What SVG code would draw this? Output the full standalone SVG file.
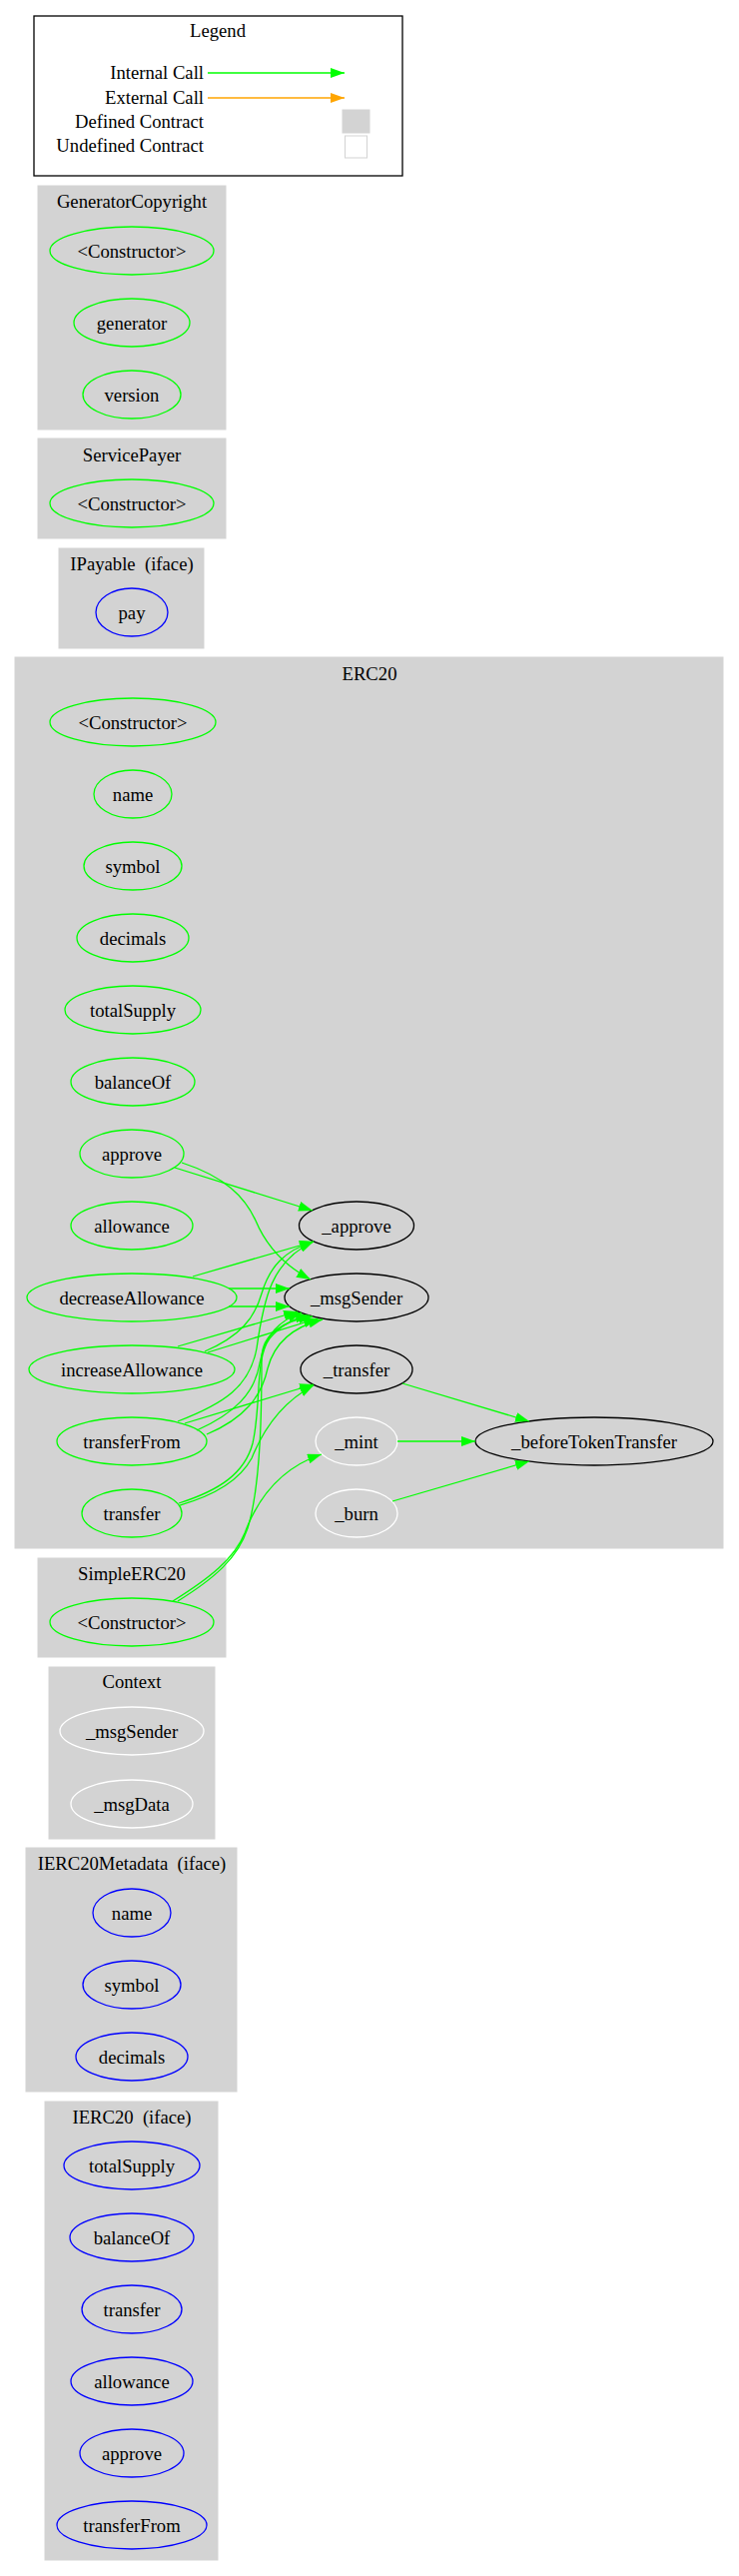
<svg xmlns="http://www.w3.org/2000/svg" width="740" height="2579" viewBox="0 0 740 2579">
<style>
text{font-family:"Liberation Serif","Times New Roman",serif;font-size:18.67px;fill:#000;white-space:pre}
.c{text-anchor:middle}
.r{text-anchor:end}
.cl{fill:#d3d3d3;stroke:#d3d3d3}
ellipse{fill:none;stroke-width:1.3}
.g{stroke:#00ff00}
.b{stroke:#0000ff}
.k{stroke:#000}
.w{stroke:#fff}
.e path{fill:none;stroke:#00ff00;stroke-width:1.3;marker-end:url(#ag)}
</style>
<defs>
<marker id="ag" markerWidth="14" markerHeight="10" refX="14" refY="5" orient="auto" markerUnits="userSpaceOnUse"><polygon points="0,0 14,5 0,10" fill="#00ff00"/></marker>
<marker id="ao" markerWidth="14" markerHeight="10" refX="14" refY="5" orient="auto" markerUnits="userSpaceOnUse"><polygon points="0,0 14,5 0,10" fill="#ffa500"/></marker>
</defs>
<rect width="740" height="2579" fill="#fff"/>

<g id="legend">
<rect x="34" y="16" width="369" height="160" fill="#fff" stroke="#000" stroke-width="1.3"/>
<text class="c" x="218" y="37">Legend</text>
<text class="r" x="204" y="79">Internal Call</text>
<text class="r" x="204" y="104">External Call</text>
<text class="r" x="204" y="128">Defined Contract</text>
<text class="r" x="204" y="152">Undefined Contract</text>
<line x1="208" y1="73" x2="345" y2="73" stroke="#00ff00" stroke-width="1.3" marker-end="url(#ag)"/>
<line x1="208" y1="98" x2="345" y2="98" stroke="#ffa500" stroke-width="1.3" marker-end="url(#ao)"/>
<rect x="343" y="110" width="27" height="23" fill="#d3d3d3" stroke="#d3d3d3"/>
<rect x="345.5" y="136" width="22" height="22" fill="#fff" stroke="#d3d3d3"/>
</g>

<g id="cluster_GeneratorCopyright">
<rect class="cl" x="38" y="186" width="188" height="244"/>
<text class="c" x="132" y="208">GeneratorCopyright</text>
</g>
<g id="GeneratorCopyright.Constructor"><ellipse class="g" cx="132" cy="251" rx="82" ry="24"/><text class="c" x="132" y="257.5">&lt;Constructor&gt;</text></g>
<g id="GeneratorCopyright.generator"><ellipse class="g" cx="132" cy="323" rx="58" ry="24"/><text class="c" x="132" y="329.5">generator</text></g>
<g id="GeneratorCopyright.version"><ellipse class="g" cx="132" cy="395" rx="49" ry="24"/><text class="c" x="132" y="401.5">version</text></g>

<g id="cluster_ServicePayer">
<rect class="cl" x="38" y="439" width="188" height="100"/>
<text class="c" x="132" y="462">ServicePayer</text>
</g>
<g id="ServicePayer.Constructor"><ellipse class="g" cx="132" cy="504" rx="82" ry="24"/><text class="c" x="132" y="510.5">&lt;Constructor&gt;</text></g>

<g id="cluster_IPayable">
<rect class="cl" x="59" y="549" width="145" height="100"/>
<text class="c" x="132" y="571" xml:space="preserve">IPayable  (iface)</text>
</g>
<g id="IPayable.pay"><ellipse class="b" cx="132" cy="613" rx="36" ry="24"/><text class="c" x="132" y="619.5">pay</text></g>

<g id="cluster_ERC20">
<rect class="cl" x="15" y="658" width="709" height="892"/>
<text class="c" x="370" y="681">ERC20</text>
</g>
<g id="ERC20.Constructor"><ellipse class="g" cx="133" cy="723" rx="83" ry="24"/><text class="c" x="133" y="729.5">&lt;Constructor&gt;</text></g>
<g id="ERC20.name"><ellipse class="g" cx="133" cy="795" rx="39" ry="24"/><text class="c" x="133" y="801.5">name</text></g>
<g id="ERC20.symbol"><ellipse class="g" cx="133" cy="867" rx="49" ry="24"/><text class="c" x="133" y="873.5">symbol</text></g>
<g id="ERC20.decimals"><ellipse class="g" cx="133" cy="939" rx="56" ry="24"/><text class="c" x="133" y="945.5">decimals</text></g>
<g id="ERC20.totalSupply"><ellipse class="g" cx="133" cy="1011" rx="68" ry="24"/><text class="c" x="133" y="1017.5">totalSupply</text></g>
<g id="ERC20.balanceOf"><ellipse class="g" cx="133" cy="1083" rx="62" ry="24"/><text class="c" x="133" y="1089.5">balanceOf</text></g>
<g id="ERC20.approve"><ellipse class="g" cx="132" cy="1155" rx="52" ry="24"/><text class="c" x="132" y="1161.5">approve</text></g>
<g id="ERC20.allowance"><ellipse class="g" cx="132" cy="1227" rx="61" ry="24"/><text class="c" x="132" y="1233.5">allowance</text></g>
<g id="ERC20.decreaseAllowance"><ellipse class="g" cx="132" cy="1299" rx="105" ry="24"/><text class="c" x="132" y="1305.5">decreaseAllowance</text></g>
<g id="ERC20.increaseAllowance"><ellipse class="g" cx="132" cy="1371" rx="103" ry="24"/><text class="c" x="132" y="1377.5">increaseAllowance</text></g>
<g id="ERC20.transferFrom"><ellipse class="g" cx="132" cy="1443" rx="75" ry="24"/><text class="c" x="132" y="1449.5">transferFrom</text></g>
<g id="ERC20.transfer"><ellipse class="g" cx="132" cy="1515" rx="50" ry="24"/><text class="c" x="132" y="1521.5">transfer</text></g>
<g id="ERC20._approve"><ellipse class="k" cx="357" cy="1227" rx="57.5" ry="24"/><text class="c" x="357" y="1233.5">_approve</text></g>
<g id="ERC20._msgSender"><ellipse class="k" cx="357" cy="1299" rx="72" ry="24"/><text class="c" x="357" y="1305.5">_msgSender</text></g>
<g id="ERC20._transfer"><ellipse class="k" cx="357" cy="1371" rx="56" ry="24"/><text class="c" x="357" y="1377.5">_transfer</text></g>
<g id="ERC20._mint"><ellipse class="w" cx="357" cy="1443" rx="41" ry="24"/><text class="c" x="357" y="1449.5">_mint</text></g>
<g id="ERC20._burn"><ellipse class="w" cx="357" cy="1515" rx="41" ry="24"/><text class="c" x="357" y="1521.5">_burn</text></g>
<g id="ERC20._beforeTokenTransfer"><ellipse class="k" cx="595" cy="1443" rx="119" ry="24"/><text class="c" x="595" y="1449.5">_beforeTokenTransfer</text></g>

<g id="cluster_SimpleERC20">
<rect class="cl" x="38" y="1560" width="188" height="99"/>
<text class="c" x="132" y="1582">SimpleERC20</text>
</g>
<g id="SimpleERC20.Constructor"><ellipse class="g" cx="132" cy="1624" rx="82" ry="24"/><text class="c" x="132" y="1630.5">&lt;Constructor&gt;</text></g>

<g id="cluster_Context">
<rect class="cl" x="49" y="1669" width="166" height="172"/>
<text class="c" x="132" y="1690">Context</text>
</g>
<g id="Context._msgSender"><ellipse class="w" cx="132" cy="1733" rx="72" ry="24"/><text class="c" x="132" y="1739.5">_msgSender</text></g>
<g id="Context._msgData"><ellipse class="w" cx="132" cy="1806" rx="61" ry="24"/><text class="c" x="132" y="1812.5">_msgData</text></g>

<g id="cluster_IERC20Metadata">
<rect class="cl" x="26" y="1850" width="211" height="244"/>
<text class="c" x="132" y="1872" xml:space="preserve">IERC20Metadata  (iface)</text>
</g>
<g id="IERC20Metadata.name"><ellipse class="b" cx="132" cy="1915" rx="39" ry="24"/><text class="c" x="132" y="1921.5">name</text></g>
<g id="IERC20Metadata.symbol"><ellipse class="b" cx="132" cy="1987" rx="49" ry="24"/><text class="c" x="132" y="1993.5">symbol</text></g>
<g id="IERC20Metadata.decimals"><ellipse class="b" cx="132" cy="2059" rx="56" ry="24"/><text class="c" x="132" y="2065.5">decimals</text></g>

<g id="cluster_IERC20">
<rect class="cl" x="45" y="2104" width="173" height="459"/>
<text class="c" x="132" y="2126" xml:space="preserve">IERC20  (iface)</text>
</g>
<g id="IERC20.totalSupply"><ellipse class="b" cx="132" cy="2168" rx="68" ry="24"/><text class="c" x="132" y="2174.5">totalSupply</text></g>
<g id="IERC20.balanceOf"><ellipse class="b" cx="132" cy="2240" rx="62" ry="24"/><text class="c" x="132" y="2246.5">balanceOf</text></g>
<g id="IERC20.transfer"><ellipse class="b" cx="132" cy="2312" rx="50" ry="24"/><text class="c" x="132" y="2318.5">transfer</text></g>
<g id="IERC20.allowance"><ellipse class="b" cx="132" cy="2384" rx="61" ry="24"/><text class="c" x="132" y="2390.5">allowance</text></g>
<g id="IERC20.approve"><ellipse class="b" cx="132" cy="2456" rx="52" ry="24"/><text class="c" x="132" y="2462.5">approve</text></g>
<g id="IERC20.transferFrom"><ellipse class="b" cx="132" cy="2528" rx="75" ry="24"/><text class="c" x="132" y="2534.5">transferFrom</text></g>

<g id="connectors" class="e">
<path d="M175,1169 L313,1212"/>
<path d="M182,1164 C225,1178 245,1198 256,1222 C266,1246 283,1266 311,1281"/>
<path d="M193,1278 L314,1243"/>
<path d="M229,1290 L290,1290"/>
<path d="M229,1308 L290,1308"/>
<path d="M205,1353 C240,1338 255,1320 262,1295 C270,1268 285,1252 314,1243"/>
<path d="M178,1348 L298,1313"/>
<path d="M208,1354 L318,1320"/>
<path d="M185,1425 L314,1386"/>
<path d="M178,1423 C225,1405 250,1388 257,1350 C264,1300 272,1262 314,1243"/>
<path d="M197,1432 C235,1415 255,1395 260,1365 C266,1335 280,1322 302,1314"/>
<path d="M207,1436 C245,1420 262,1398 268,1370 C275,1343 295,1328 323,1321"/>
<path d="M180,1507 C215,1497 240,1482 252,1460 C262,1435 280,1405 314,1387"/>
<path d="M179,1505 C220,1492 245,1475 253,1445 C262,1405 255,1360 270,1340 C280,1328 292,1320 310,1317"/>
<path d="M173,1603 C210,1580 235,1560 245,1535 C258,1500 280,1470 322,1456"/>
<path d="M178,1603 C215,1580 238,1560 248,1530 C262,1485 262,1400 262,1360 C262,1335 285,1322 313,1318"/>
<path d="M403,1385 L530,1423"/>
<path d="M398,1443 L476,1443"/>
<path d="M393,1503 L530,1463"/>
</g>
</svg>
